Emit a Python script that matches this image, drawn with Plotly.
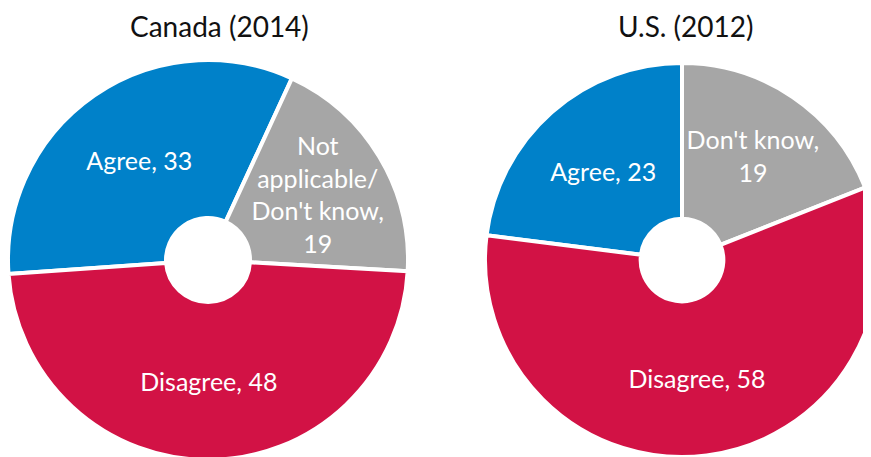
import plotly.graph_objects as go

# Data
categories = ["Agree", "Not applicable/Don't know", "Disagree"]
canada_values = [33, 19, 48]
us_categories = ["Agree", "Don't know", "Disagree"]
us_values = [23, 19, 58]

canada_label_text = ["Agree", "Not<br>applicable/<br>Don't know", "Disagree"]
canada_sep = [" ", "<br>", " "]
us_label_text = ["Agree", "Don't know", "Disagree"]
us_sep = [" ", "<br>", " "]

titles = ["Canada (2014)", "U.S. (2012)"]

colors = ["#0081C9", "#A6A6A6", "#D21245"]
FONT = "Lato"

def make_text(labels, seps, values):
    return [f"{l},{s}{v}" for l, s, v in zip(labels, seps, values)]

W, H = 871, 457

fig = go.Figure()
fig.add_trace(go.Pie(
    labels=categories, values=canada_values,
    text=make_text(canada_label_text, canada_sep, canada_values),
    texttemplate="%{text}", textposition="inside",
    insidetextorientation="horizontal",
    sort=False, direction="clockwise", rotation=-94,
    hole=0.21,
    marker=dict(colors=colors, line=dict(color="white", width=4)),
    textfont=dict(family=FONT, size=25, color="white"),
    domain=dict(x=[0, 400 / W], y=[5 / H, 405 / H]),
    showlegend=False, hoverinfo="label+value",
))
fig.add_trace(go.Pie(
    labels=us_categories, values=us_values,
    text=make_text(us_label_text, us_sep, us_values),
    texttemplate="%{text}", textposition="inside",
    insidetextorientation="horizontal",
    sort=False, direction="clockwise", rotation=-82.8,
    hole=0.21,
    marker=dict(colors=colors, line=dict(color="white", width=4)),
    textfont=dict(family=FONT, size=25, color="white"),
    domain=dict(x=[477 / W, 1], y=[8 / H, 402 / H]),
    showlegend=False, hoverinfo="label+value",
))

for t, x in zip(titles, [211 / W, 678 / W]):
    fig.add_annotation(text=t, x=x, y=1, xref="paper", yref="paper",
                       showarrow=False, xanchor="center", yanchor="top",
                       borderpad=0,
                       font=dict(family=FONT, size=28, color="#111111"))

fig.update_layout(
    width=W, height=H,
    margin=dict(l=0, r=0, t=0, b=0),
    paper_bgcolor="white", plot_bgcolor="white",
    uniformtext=dict(mode="show", minsize=25),
)

fig.write_html("out.html")
